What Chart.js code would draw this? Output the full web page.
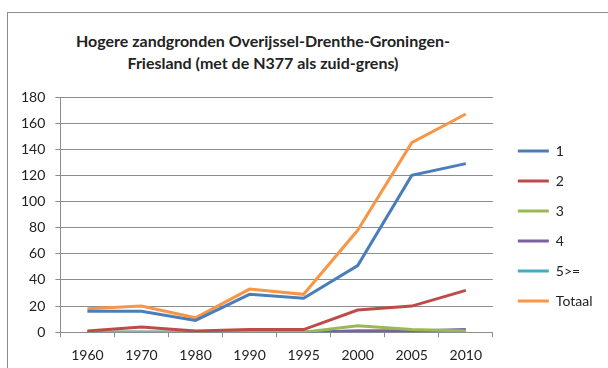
<!DOCTYPE html>
<html>
<head>
<meta charset="utf-8">
<script src="https://cdn.jsdelivr.net/npm/chart.js@4.4.0/dist/chart.umd.min.js"></script>
<style>
  html, body { margin: 0; padding: 0; background: #fff; overflow: hidden; }
  #wrap { position: relative; width: 608px; height: 368px; }
  #frame { position: absolute; left: 7px; top: 12px; width: 640px; height: 400px; border: 1px solid #8c8c8c; box-sizing: border-box; }
  #title { position: absolute; left: 0; width: 526px; top: 30px; text-align: center;
           font: bold 16px Lato, "Open Sans", sans-serif; color: #222; line-height: 22px; }
  canvas { position: absolute; left: 0; top: 0; }
</style>
</head>
<body>
<div id="wrap">
  <div id="frame"></div>
  <div id="title">Hogere zandgronden Overijssel-Drenthe-Groningen-<br>Friesland (met de N377 als zuid-grens)</div>
  <canvas id="chart" width="608" height="368"></canvas>
</div>
<script>
// jaren op de x-as
const jaren = ['1960', '1970', '1980', '1990', '1995', '2000', '2005', '2010'];

const reeks1 = [16, 16, 9, 29, 26, 51, 120, 129];
const reeks2 = [1, 4, 1, 2, 2, 17, 20, 32];
const reeks3 = [0, 0, 0, 0, 0, 5, 2, 1];
const reeks4 = [0, 0, 0, 0, 0, 1, 1, 2];
const reeks5 = [0, 0, 0, 0, 0, 1, 1, 1];
const totaal = [18, 20, 11, 33, 29, 78, 145, 167];

const namen = ['1', '2', '3', '4', '5>=', 'Totaal'];
const kleuren = ['#4a7ebb', '#be4b48', '#98b954', '#7d60a0', '#46aac5', '#f79646'];
const waarden = [reeks1, reeks2, reeks3, reeks4, reeks5, totaal];

const datasets = namen.map((naam, i) => ({
    label: naam,
    data: waarden[i],
    borderColor: kleuren[i],
    backgroundColor: kleuren[i],
    borderWidth: 3,
    pointRadius: 0,
    tension: 0
}));

const font = { family: 'Lato, "Open Sans", sans-serif', size: 14 };

new Chart(document.getElementById('chart'), {
    type: 'line',
    data: { labels: jaren, datasets: datasets },
    options: {
        responsive: false,
        animation: false,
        layout: { padding: { top: 97, left: 11, right: 8, bottom: -6 } },
        plugins: {
            title: { display: false },
            tooltip: { enabled: false },
            legend: {
                position: 'right',
                align: 'start',
                // lege legendatitel schuift de items omlaag
                title: { display: true, text: '', font: { size: 10, lineHeight: 1 }, padding: { top: 0, bottom: 21 } },
                labels: {
                    usePointStyle: true,
                    pointStyleWidth: 31,
                    pointStyle: 'line',
                    boxHeight: 14,
                    padding: 16,
                    color: '#222',
                    font: font
                }
            }
        },
        scales: {
            x: {
                offset: true,
                grid: { display: true, drawOnChartArea: false, offset: true, tickLength: 5, color: '#8c8c8c' },
                border: { color: '#8c8c8c' },
                ticks: { color: '#222', font: font, padding: 10 }
            },
            y: {
                min: 0,
                max: 180,
                ticks: { stepSize: 20, color: '#222', font: font, padding: 10 },
                grid: { color: '#8c8c8c', tickLength: 5 },
                border: { display: true, color: '#8c8c8c' }
            },
            // lege as rechts: ruimte tussen plotvlak en legenda
            ruimte: {
                position: 'right',
                grid: { display: false },
                ticks: { display: false },
                border: { display: false },
                afterFit: (as) => { as.width = 9; }
            }
        }
    }
});
</script>
</body>
</html>
